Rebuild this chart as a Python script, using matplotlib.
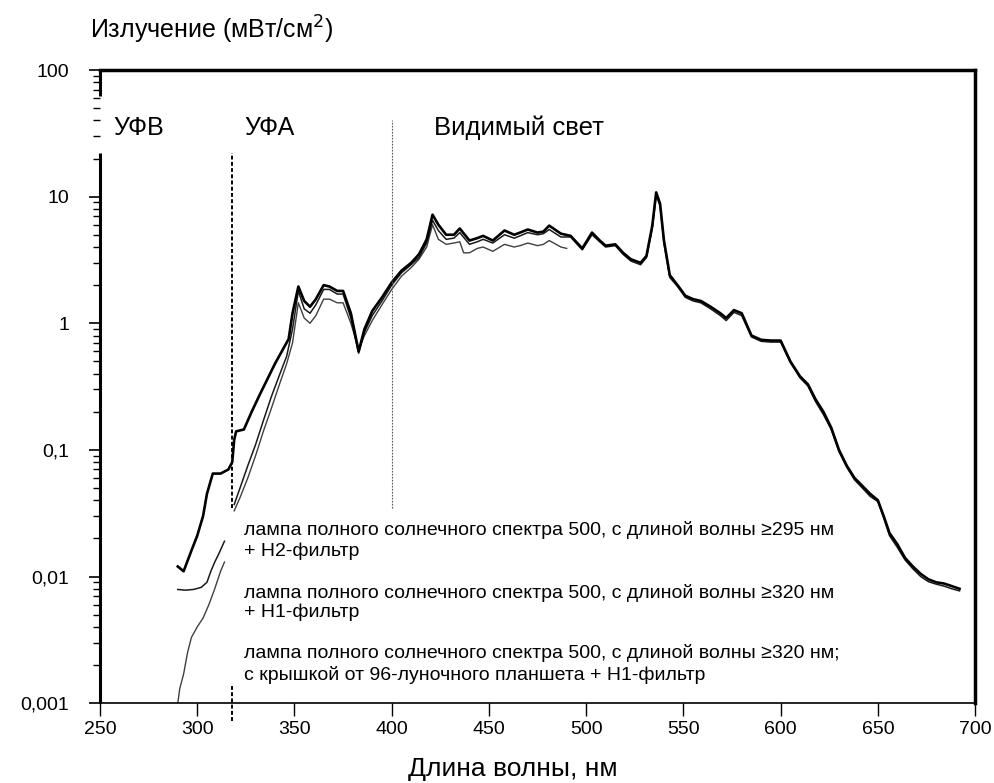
import numpy as np
import matplotlib
matplotlib.use("Agg")
from matplotlib import pyplot as plt
from matplotlib.ticker import FixedLocator, NullFormatter

plt.rcParams['font.family'] = ['Liberation Sans', 'DejaVu Sans']

nan = np.nan

# лампа ≥295 нм + H2-фильтр
wl_a = [290, 293, 297, 300, 303, 305, 308, 312, 316, 318, 319, 320, 324, 328, 332, 336, 340, 344, 347, 349,
        352, 355, 358, 361, 365, 368, 372, 375, 379, 383, 386, 390, 395, 400, 405, 410, 414, 418, 421, 424,
        428, 432, 435, 440, 444, 447, 452, 458, 463, 466, 470, 475, 478, 481, 487, 492, 498, 503, 507, 510,
        515, 519, 523, 528, 531, 534, 536, 538, 540, 543, 547, 551, 555, 559, 564, 569, 572, 576, 580, 585,
        590, 595, 600, 605, 610, 614, 618, 622, 626, 630, 634, 638, 642, 646, 650, 653, 656, 660, 664, 668,
        672, 676, 680, 684, 688, 692]
val_a = [0.012, 0.011, 0.016, 0.021, 0.03, 0.045, 0.065, 0.065, 0.07, 0.08, 0.12, 0.14, 0.145, 0.2, 0.27, 0.36, 0.48, 0.62, 0.75, 1.2,
         1.95, 1.5, 1.35, 1.55, 2.0, 1.95, 1.8, 1.8, 1.2, 0.6, 0.9, 1.25, 1.6, 2.1, 2.6, 3.0, 3.5, 4.6, 7.2, 6.0,
         5.0, 5.0, 5.6, 4.5, 4.7, 4.9, 4.5, 5.4, 5.0, 5.2, 5.5, 5.2, 5.3, 5.9, 5.1, 4.9, 3.9, 5.2, 4.5, 4.1,
         4.2, 3.6, 3.2, 3.0, 3.4, 5.9, 10.8, 8.8, 4.5, 2.4, 2.0, 1.65, 1.55, 1.5, 1.35, 1.2, 1.1, 1.27, 1.2, 0.8,
         0.74, 0.73, 0.73, 0.5, 0.38, 0.33, 0.25, 0.2, 0.15, 0.1, 0.075, 0.06, 0.052, 0.045, 0.04, 0.03, 0.022, 0.018, 0.014, 0.012,
         0.0105, 0.0095, 0.009, 0.0088, 0.0084, 0.008]

# лампа ≥320 нм + H1-фильтр
wl_b = [290, 294, 298, 302, 305, 307, 309, 311, 314, 315, 319, 322, 326, 330, 334, 338, 342, 346, 349,
        352, 355, 358, 361, 365, 368, 372, 375, 379, 383, 386, 390, 395, 400, 405, 410, 414, 418, 421, 424,
        428, 432, 435, 440, 444, 447, 452, 458, 463, 466, 470, 475, 478, 481, 487, 492, 498, 503, 507, 510,
        515, 519, 523, 528, 531, 534, 536, 538, 540, 543, 547, 551, 555, 559, 564, 569, 572, 576, 580, 585,
        590, 595, 600, 605, 610, 614, 618, 622, 626, 630, 634, 638, 642, 646, 650, 653, 656, 660, 664, 668,
        672, 676, 680, 684, 688, 692]
val_b = [0.0079, 0.0078, 0.0079, 0.0082, 0.009, 0.011, 0.013, 0.015, 0.019, nan, 0.037, 0.05, 0.075, 0.11, 0.17, 0.26, 0.38, 0.55, 0.9,
         1.8, 1.3, 1.2, 1.4, 1.85, 1.85, 1.7, 1.7, 1.1, 0.58, 0.85, 1.15, 1.5, 2.0, 2.5, 2.9, 3.3, 4.3, 6.5, 5.4,
         4.6, 4.7, 5.2, 4.2, 4.4, 4.6, 4.3, 5.0, 4.7, 4.9, 5.2, 5.0, 5.1, 5.5, 4.8, 4.8, 3.8, 5.0, 4.4, 4.0,
         4.1, 3.5, 3.1, 2.9, 3.3, 5.6, 10.2, 8.5, 4.3, 2.3, 1.95, 1.6, 1.5, 1.45, 1.3, 1.15, 1.05, 1.22, 1.15, 0.78,
         0.72, 0.71, 0.71, 0.49, 0.37, 0.32, 0.24, 0.19, 0.145, 0.097, 0.073, 0.058, 0.05, 0.043, 0.039, 0.029, 0.021, 0.017, 0.0135, 0.0115,
         0.01, 0.0091, 0.0087, 0.0084, 0.008, 0.0077]

# лампа ≥320 нм, с крышкой планшета + H1-фильтр
wl_c = [290, 291, 293, 295, 297, 300, 303, 306, 309, 312, 314, 315, 319, 322, 326, 330, 334, 338, 342, 346, 349,
        352, 355, 358, 361, 365, 368, 372, 375, 379, 383, 386, 390, 395, 400, 405, 410, 414, 418, 421, 424,
        428, 432, 435, 437, 440, 444, 447, 452, 458, 463, 466, 470, 475, 478, 481, 487, 490]
val_c = [0.001, 0.0013, 0.0017, 0.0025, 0.0033, 0.004, 0.0047, 0.006, 0.008, 0.011, 0.013, nan, 0.033, 0.042, 0.06, 0.09, 0.14, 0.21, 0.32, 0.48, 0.7,
         1.45, 1.1, 1.0, 1.15, 1.55, 1.55, 1.45, 1.45, 1.0, 0.62, 0.8, 1.05, 1.4, 1.85, 2.35, 2.75, 3.2, 4.0, 6.0, 4.6,
         4.2, 4.3, 4.4, 3.6, 3.6, 3.9, 4.0, 3.7, 4.2, 4.0, 4.1, 4.3, 4.1, 4.2, 4.5, 4.0, 3.9]

x_ticks = [250, 300, 350, 400, 450, 500, 550, 600, 650, 700]
y_ticks = [0.001, 0.01, 0.1, 1, 10, 100]
y_labels = ['0,001', '0,01', '0,1', '1', '10', '100']

legend_lines = [
    "лампа полного солнечного спектра 500, с длиной волны ≥295 нм",
    "+ H2-фильтр",
    "лампа полного солнечного спектра 500, с длиной волны ≥320 нм",
    "+ H1-фильтр",
    "лампа полного солнечного спектра 500, с длиной волны ≥320 нм;",
    "с крышкой от 96-луночного планшета + H1-фильтр",
]
legend_y = [0.0235, 0.0157, 0.0074, 0.0052, 0.00248, 0.00167]

fig = plt.figure(figsize=(9.95, 7.83), dpi=100)
ax = fig.add_axes([0.1005, 0.102, 0.8795, 0.8086])

ax.plot(wl_c, val_c, color='0.25', lw=1.0)
ax.plot(wl_b, val_b, color='0.1', lw=1.1)
ax.plot(wl_a, val_a, color='black', lw=1.9)

ax.set_yscale('log')
ax.set_xlim(250, 700)
ax.set_ylim(0.001, 100)

ax.set_xticks(x_ticks)
ax.set_xticklabels([str(t) for t in x_ticks], fontsize=14)
ax.set_yticks(y_ticks)
ax.set_yticklabels(y_labels, fontsize=14)
minors = [m * 10.0 ** e for e in range(-3, 2) for m in range(2, 10)]
ax.yaxis.set_minor_locator(FixedLocator(minors))
ax.yaxis.set_minor_formatter(NullFormatter())
ax.tick_params(axis='y', which='major', length=8, width=1.2, direction='out', pad=14)
ax.tick_params(axis='y', which='minor', length=5, width=1.0, direction='out')
ax.tick_params(axis='x', which='major', length=9, width=1.0, direction='out', pad=4)

ax.spines['top'].set_linewidth(2.5)
ax.spines['right'].set_linewidth(2.5)
ax.spines['bottom'].set_linewidth(1.2)
ax.spines['left'].set_visible(False)
# broken left axis
ax.plot([250, 250], [0.001, 22], color='black', lw=2.2, clip_on=False, solid_capstyle='butt')
ax.plot([250, 250], [62, 100], color='black', lw=2.2, clip_on=False, solid_capstyle='butt')

# region boundaries
ax.plot([318, 318], [0.035, 22], color='black', lw=1.4, ls=(0, (2, 1.2)))
ax.plot([318, 318], [0.00072, 0.0014], color='black', lw=1.4, ls=(0, (2, 1.2)), clip_on=False)
ax.plot([400, 400], [0.035, 40], color='0.35', lw=0.8, ls=(0, (1.5, 1.2)))

ax.text(257, 35, "УФВ", fontsize=18, va='center', ha='left')
ax.text(324, 35, "УФА", fontsize=18, va='center', ha='left')
ax.text(422, 35, "Видимый свет", fontsize=18.5, va='center', ha='left')

for txt, yy in zip(legend_lines, legend_y):
    ax.text(324, yy, txt, fontsize=14, va='center', ha='left')

fig.text(0.09, 0.962, "Излучение (мВт/см$^2$)", fontsize=18, ha='left', va='center')
fig.text(0.515, 0.018, "Длина волны, нм", fontsize=19, ha='center', va='center')

fig.savefig("out.png", dpi=100)
